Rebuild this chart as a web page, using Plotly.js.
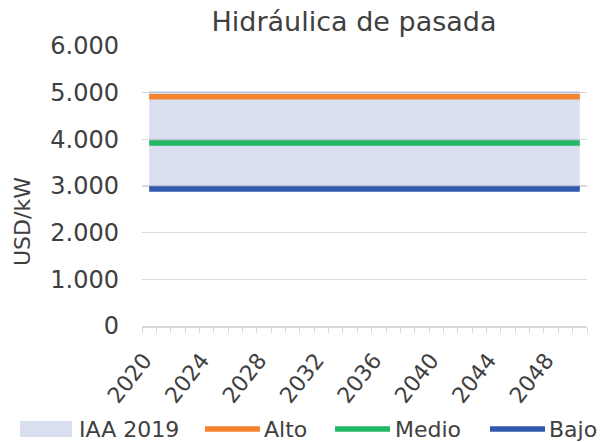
<!DOCTYPE html>
<html>
<head>
<meta charset="utf-8">
<script src="https://cdn.plot.ly/plotly-3.0.1.min.js"></script>
<style>html,body{margin:0;padding:0;background:#fff}#chart{width:604px;height:442px}</style>
</head>
<body>
<div id="chart"></div>
<script>
const years = [];
for (let y = 2020; y <= 2050; y++) years.push(y);
const iaaLow  = Array(31).fill(2935);
const iaaHigh = Array(31).fill(5035);
const alto  = Array(31).fill(4910);
const medio = Array(31).fill(3920);
const bajo  = Array(31).fill(2935);
const labelYears = [2020, 2024, 2028, 2032, 2036, 2040, 2044, 2048];
const seriesNames = ["IAA 2019", "Alto", "Medio", "Bajo"];
const seriesColors = ["rgba(64,96,176,0.2)", "#F5822F", "#22B965", "#2F59AA"];

const font = "DejaVu Sans, sans-serif";
const txt = "#404040";
const W = 604, H = 442, L = 142, R = 17, T = 46, B = 116;
const pw = W - L - R, ph = H - T - B;
const px = v => (v - L) / pw;
const py = v => (H - B - v) / ph;

const traces = [
  {x: years, y: iaaLow, type: "scatter", mode: "lines", line: {width: 0}, showlegend: false, hoverinfo: "skip"},
  {x: years, y: iaaHigh, type: "scatter", mode: "lines", name: seriesNames[0], fill: "tonexty",
   fillcolor: seriesColors[0], line: {width: 0, color: seriesColors[0]}},
  {x: years, y: alto, type: "scatter", mode: "lines", name: seriesNames[1], line: {color: seriesColors[1], width: 5.5}},
  {x: years, y: medio, type: "scatter", mode: "lines", name: seriesNames[2], line: {color: seriesColors[2], width: 5.5}},
  {x: years, y: bajo, type: "scatter", mode: "lines", name: seriesNames[3], line: {color: seriesColors[3], width: 5.5}}
];

// manual legend (positions in paper coordinates)
const legY = 429;
const shapes = [
  {type: "rect", xref: "paper", yref: "paper", x0: px(20), x1: px(72), y0: py(legY - 8), y1: py(legY + 8),
   fillcolor: seriesColors[0], line: {width: 0}}
];
const legendLines = [[205, 260], [335, 390], [490, 545]];
legendLines.forEach((p, i) => shapes.push({type: "line", xref: "paper", yref: "paper",
  x0: px(p[0]), x1: px(p[1]), y0: py(legY), y1: py(legY), line: {color: seriesColors[i + 1], width: 5.5}}));
const legendTextX = [77, 262, 393, 547];
const annotations = legendTextX.map((x, i) => ({
  text: seriesNames[i], xref: "paper", yref: "paper", x: px(x), y: py(legY),
  xanchor: "left", yanchor: "middle", showarrow: false, font: {family: font, size: 22, color: txt}
}));
annotations.push({
  text: "USD/kW", textangle: -90, xref: "paper", yref: "paper",
  x: px(22), y: py(222), xanchor: "center", yanchor: "middle", showarrow: false,
  font: {family: font, size: 22, color: txt}
});

const layout = {
  width: W, height: H,
  paper_bgcolor: "#fff", plot_bgcolor: "#fff",
  separators: ",.",
  margin: {l: L, r: R, t: T, b: B},
  font: {family: font, color: txt, size: 22},
  showlegend: false,
  title: {text: "Hidráulica de pasada", font: {family: font, size: 27, color: txt},
          x: 354 / W, xref: "container", xanchor: "center", y: 1 - 22 / H, yref: "container", yanchor: "middle"},
  xaxis: {
    type: "linear", range: [2019.5, 2050.5],
    tickmode: "array", tickvals: labelYears, ticktext: labelYears.map(String),
    tickangle: -52, ticks: "", showgrid: false, zeroline: false,
    ticklabelstandoff: 11, ticklabelshift: -5,
    showline: true, linecolor: "#d9d9d9", linewidth: 1.5,
    tickfont: {family: font, size: 22, color: txt},
    minor: {tickmode: "linear", tick0: 2019.5, dtick: 1, ticks: "outside", ticklen: 5, tickcolor: "#d9d9d9", tickwidth: 1, showgrid: false}
  },
  yaxis: {
    range: [0, 6000], dtick: 1000, tick0: 0, tickformat: ",d",
    showgrid: true, gridcolor: "#d9d9d9", gridwidth: 1.3, zeroline: false,
    showline: false, ticks: "", ticklabelstandoff: 22,
    tickfont: {family: font, size: 24, color: txt}
  },
  shapes: shapes,
  annotations: annotations
};

Plotly.newPlot("chart", traces, layout, {displayModeBar: false, staticPlot: true});
</script>
</body>
</html>
